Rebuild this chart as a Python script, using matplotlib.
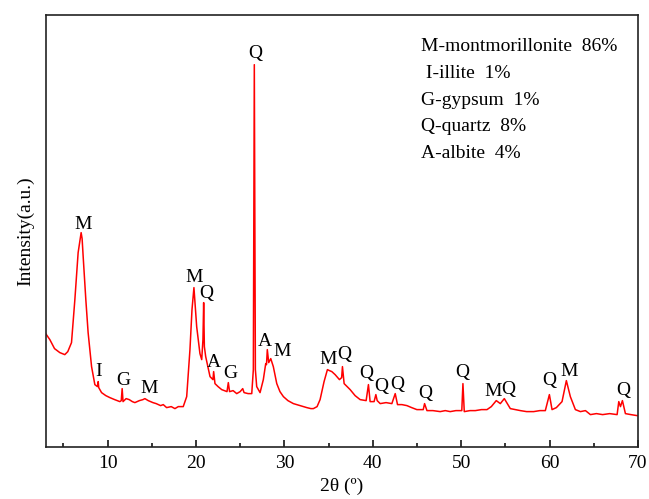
import matplotlib
matplotlib.use("Agg")
import matplotlib.pyplot as plt
from matplotlib.ticker import MultipleLocator

plt.rcParams['font.family'] = ['Liberation Serif', 'DejaVu Serif']
plt.rcParams['mathtext.fontset'] = 'stix'

# XRD pattern: 2-theta (deg) and intensity (a.u.)
two_theta = [
    3.0, 3.47, 4.0, 4.6, 5.16, 5.5, 5.92, 6.3, 6.67, 6.9, 7.01, 7.12, 7.24,
    7.54, 7.8, 8.19, 8.56,
    8.85, 8.94, 9.0, 9.32, 9.8, 10.26, 10.8, 11.39, 11.55, 11.65, 11.75, 12.1,
    12.45, 12.8, 13.09, 13.6, 14.0, 14.22, 14.6, 15.13, 15.5, 16.0, 16.3, 16.68,
    17.2, 17.62, 18.0, 18.56, 18.95, 19.32, 19.55, 19.77, 20.08, 20.45, 20.65,
    20.79, 20.87, 20.95, 21.1, 21.59, 21.92, 22.0, 22.15, 22.5, 22.91, 23.51,
    23.66, 23.8, 24.2, 24.61, 25.0, 25.29, 25.44, 25.9, 26.31, 26.49, 26.6,
    26.72, 26.87, 27.25, 27.62, 27.89, 27.98, 28.07, 28.23, 28.46, 28.75, 29.14,
    29.5, 29.89, 30.4, 31.02, 31.4, 31.78, 32.2, 32.54, 33.0, 33.28, 33.7,
    34.04, 34.49, 34.87, 35.1, 35.37, 35.74, 36.23, 36.48, 36.57, 36.76, 37.1,
    37.44, 38.0, 38.57, 39.25, 39.51, 39.7, 40.15, 40.35, 40.5, 40.84, 41.5,
    42.16, 42.54, 42.8, 43.3, 43.86, 44.4, 44.99, 45.71, 45.86, 46.13, 46.8,
    47.63, 48.2, 48.76, 49.4, 50.07, 50.2, 50.35, 51.0, 51.6, 52.3, 52.92,
    53.41, 53.97, 54.43, 54.88, 55.56, 56.1, 56.7, 57.4, 58.2, 58.9, 59.52,
    59.98, 60.28, 60.77, 61.41, 61.9, 62.35, 62.92, 63.49, 64.06, 64.62, 65.3,
    66.0, 66.8, 67.64, 67.83, 68.02, 68.24, 68.58, 69.2, 69.9,
]
intensity = [
    113, 107, 98, 94, 92, 95, 104, 147, 194, 208, 214, 208, 190,
    147, 114, 80, 62,
    60, 65, 59, 54, 51, 49, 47, 45, 46, 58, 45, 48,
    47, 45, 44, 46, 47, 48, 46, 44, 43, 41, 42, 39,
    40, 38, 40, 40, 50, 97, 137, 159, 120, 93, 87,
    107, 144, 100, 90, 70, 67, 75, 63, 60, 57, 55,
    64, 55, 56, 53, 55, 58, 54, 53, 53, 77, 382,
    77, 60, 54, 67, 83, 82, 97, 84, 88, 80, 63,
    55, 50, 46, 43, 42, 41, 40, 39, 38, 38, 40,
    47, 65, 77, 76, 75, 72, 67, 69, 80, 63, 60,
    57, 51, 47, 46, 62, 45, 45, 52, 46, 43, 44,
    43, 53, 42, 42, 41, 39, 37, 37, 43, 36, 36,
    35, 36, 35, 36, 36, 63, 35, 36, 36, 37, 37,
    40, 46, 43, 48, 38, 37, 36, 35, 35, 36, 36,
    52, 37, 39, 45, 66, 50, 37, 35, 36, 32, 33,
    32, 33, 32, 45, 40, 46, 33, 32, 31,
]

# Phase labels placed above their reflections
peak_labels = ['M', 'I', 'G', 'M', 'M', 'Q', 'A', 'G', 'Q', 'A', 'M', 'M',
               'Q', 'Q', 'Q', 'Q', 'Q', 'Q', 'M', 'Q', 'Q', 'M', 'Q']
label_x = [7.24, 8.94, 11.77, 14.71, 19.77, 21.21, 22.04, 23.85, 26.68, 27.81,
           29.7, 34.9, 36.76, 39.25, 40.91, 42.73, 45.94, 50.16, 53.67, 55.37,
           59.98, 62.16, 68.32]
label_y = [221.7, 75, 66, 58.4, 169.4, 153.4, 84, 72.7, 393.4, 105,
           95, 86.7, 91.7, 73.4, 60, 61.7, 53.4, 74.4, 55, 57.4,
           66, 75, 55.7]

# Phase composition
phase_text = ['M-montmorillonite  86%', ' I-illite  1%', 'G-gypsum  1%',
              'Q-quartz  8%', 'A-albite  4%']

fig = plt.figure(figsize=(6.49, 4.99), dpi=100)
ax = fig.add_axes([0.0704, 0.105, 0.9126, 0.865])

ax.plot(two_theta, intensity, color='#ff0000', linewidth=1.1)

for lab, x, y in zip(peak_labels, label_x, label_y):
    ax.text(x, y, lab, ha='center', va='center', fontsize=14, color='black')

for i, t in enumerate(phase_text):
    ax.text(0.634, 0.928 - i * 0.0625, t, transform=ax.transAxes,
            ha='left', va='center', fontsize=14, color='black')

ax.set_xlim(3, 70)
ax.set_ylim(0, 431.7)
ax.xaxis.set_major_locator(MultipleLocator(10))
ax.xaxis.set_minor_locator(MultipleLocator(5))
ax.tick_params(axis='x', which='major', direction='in', length=5, width=1.1,
               labelsize=14, pad=6)
ax.tick_params(axis='x', which='minor', direction='in', length=3, width=1.1)
ax.set_yticks([])

for s in ax.spines.values():
    s.set_linewidth(1.2)
    s.set_color('#222222')

ax.set_xlabel('2θ (º)', fontsize=14, labelpad=4)
ax.set_ylabel('Intensity(a.u.)', fontsize=14, labelpad=8)

fig.savefig('out.png', dpi=100)
